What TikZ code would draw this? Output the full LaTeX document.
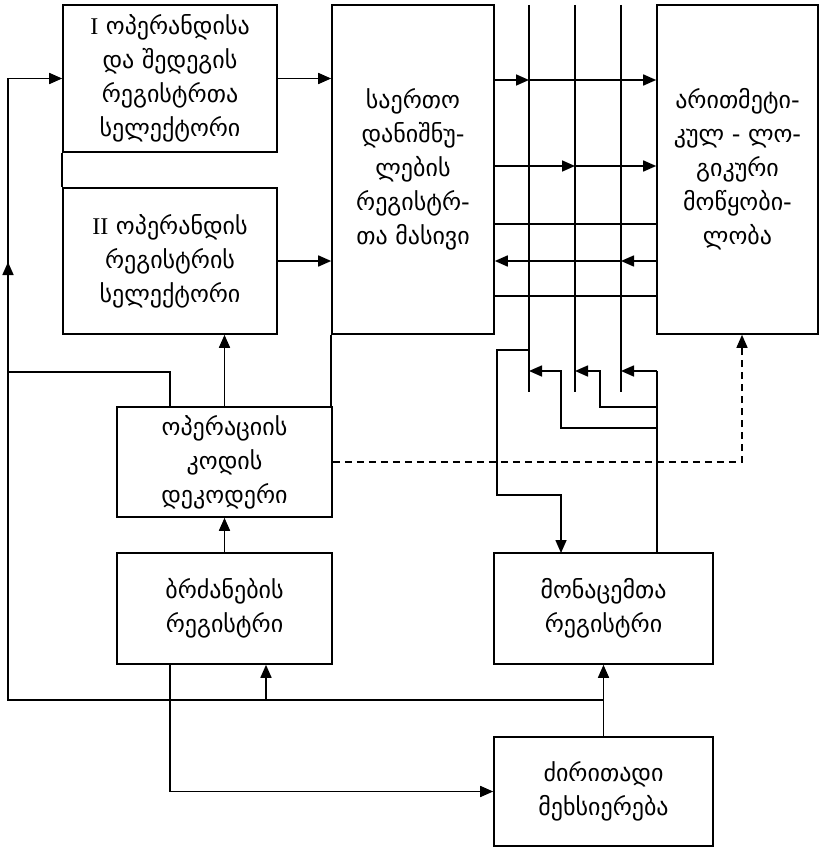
\documentclass[tikz,border=0pt]{standalone}
\usepackage{fontspec}
\setmainfont{DejaVu Sans}
\newfontfamily\romanfont{Liberation Serif}
\usetikzlibrary{arrows.meta}
\begin{document}
\begin{tikzpicture}[x=1pt,y=-1pt,line width=1.6pt,
  blk/.style={draw,rectangle,align=center,inner sep=2pt,
    font=\fontsize{24}{34}\selectfont},
  arr/.style={-{Triangle[length=13pt,width=11pt]}},
  ctrl/.style={dash pattern=on 7pt off 5pt,line width=1.4pt}]
\useasboundingbox (0,0) rectangle (824,848);

% functional blocks
\node[blk,minimum width=214pt,minimum height=147pt] (selA) at (170,78.5)
  {{\romanfont I} ოპერანდისა\\და შედეგის\\რეგისტრთა\\სელექტორი};
\node[blk,minimum width=214pt,minimum height=146pt] (selB) at (170,261)
  {{\romanfont II} ოპერანდის\\რეგისტრის\\სელექტორი};
\node[blk,minimum width=162pt,minimum height=329pt] (regs) at (413,169.5)
  {საერთო\\დანიშნუ-\\ლების\\რეგისტრ-\\თა მასივი};
\node[blk,minimum width=161pt,minimum height=329pt] (alu) at (737.5,169.5)
  {არითმეტი-\\კულ - ლო-\\გიკური\\მოწყობი-\\ლობა};
\node[blk,minimum width=215pt,minimum height=110pt] (dec) at (224.5,462)
  {ოპერაციის\\კოდის\\დეკოდერი};
\node[blk,minimum width=215pt,minimum height=111pt] (cmd) at (224.5,608.5)
  {ბრძანების\\რეგისტრი};
\node[blk,minimum width=219pt,minimum height=111pt] (data) at (603.5,608.5)
  {მონაცემთა\\რეგისტრი};
\node[blk,minimum width=219pt,minimum height=109pt] (mem) at (603.5,791.5)
  {ძირითადი\\მეხსიერება};

% vertical internal buses
\coordinate (b1) at (529,5);
\coordinate (b2) at (575,5);
\coordinate (b3) at (621,5);
\foreach \b in {b1,b2,b3}
  \draw (\b) -- ++(0,387);

% horizontal links between register array and ALU
\draw[arr] (regs.east |- 0,80) -- (b1 |- 0,80);
\draw[arr] (b1 |- 0,80) -- (alu.west |- 0,80);
\draw[arr] (regs.east |- 0,166) -- (b2 |- 0,166);
\draw[arr] (b2 |- 0,166) -- (alu.west |- 0,166);
\draw (regs.east |- 0,224) -- (alu.west |- 0,224);
\draw[arr] (alu.west |- 0,261) -- (b3 |- 0,261);
\draw[arr] (b3 |- 0,261) -- (regs.east |- 0,261);
\draw (regs.east |- 0,296) -- (alu.west |- 0,296);

% bus taps to and from the data register
\coordinate (dtap) at (561,553);
\coordinate (drise) at (657,553);
\draw[arr] (b1 |- 0,350) -| (497,495) -| (dtap);
\draw (drise) -- (657,371);
\draw[arr] (657,371) -- (b3 |- 0,371);
\draw[arr] (657,407) -| (600,371) -- (b2 |- 0,371);
\draw[arr] (657,428) -| (561,371) -- (b1 |- 0,371);

% selectors into register array
\draw[arr] (selA.east) -- (selA.east -| regs.west);
\draw[arr] (selB.east) -- (selB.east -| regs.west);
\draw (selA.south west) -- (selA.south west |- selB.north);
\draw (regs.south west) -- (regs.south west |- dec.north);

% decoder links
\draw[arr] (dec.north) -- (dec.north |- selB.south);
\draw (dec.north -| selA.south) |- (8,372);
\draw[arr,ctrl] (dec.east) -| ([xshift=4.5pt]alu.south);
\draw[arr] (cmd.north) -- (dec.south);

% main memory links
\coordinate (cin) at (266,700);
\draw[arr] (mem.north) -- (data.south);
\draw[arr] (mem.north |- cin) -- (8,700) |- (selA.west);
\draw[arr] (8,300) -- (8,262);
\draw[arr] (cin) -- (cin |- cmd.south);
\draw[arr] (cmd.south -| selA.south) |- (mem.west);
\end{tikzpicture}
\end{document}
